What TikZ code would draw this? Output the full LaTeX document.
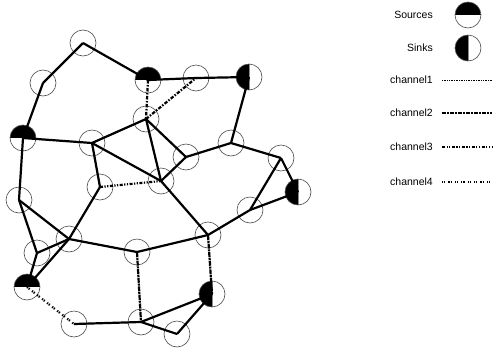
\documentclass[tikz,border=0pt]{standalone}
\usepackage{fontspec}
\setmainfont{Liberation Sans}
\begin{document}
\begin{tikzpicture}[x=1pt,y=-1pt,
  site/.style={circle,draw=black!70,line width=0.6pt,minimum size=26pt,inner sep=0pt,fill=white},
  source/.style={site,path picture={\fill[black] (path picture bounding box.north west) rectangle (path picture bounding box.east);}},
  sink/.style={site,path picture={\fill[black] (path picture bounding box.north west) rectangle (path picture bounding box.south);
     \draw[black!45,line width=0.6pt] (path picture bounding box.north) -- (path picture bounding box.south);}},
  link/.style={line width=2.2pt},
  ch1/.style={dash pattern=on 1pt off 0.7pt},
  ch1link/.style={dash pattern=on 5pt off 0.8pt on 2pt off 0.8pt},
  ch2/.style={dash pattern=on 3.5pt off 1.5pt on 1.5pt off 1.5pt},
  ch3/.style={dash pattern=on 3pt off 1.5pt on 1.2pt off 1.5pt on 1.2pt off 1.5pt},
  ch4/.style={dash pattern=on 1.2pt off 1pt on 1.2pt off 3pt},
  keyline/.style={line width=1.1pt},
  lbl/.style={anchor=east,inner sep=0pt,font=\fontsize{10.5}{12}\selectfont}]
\useasboundingbox (0,0) rectangle (493,354);

% sites of the network
\node[site]   (n1)  at (83,43)   {};
\node[site]   (n2)  at (43,83)   {};
\node[source] (s1)  at (23,138)  {};
\node[source] (s2)  at (148,80)  {};
\node[site]   (n3)  at (196,78)  {};
\node[sink]   (k1)  at (249,77)  {};
\node[site]   (n4)  at (146,119) {};
\node[site]   (n5)  at (92,143)  {};
\node[site]   (n6)  at (186,157) {};
\node[site]   (n7)  at (231,143) {};
\node[site]   (n8)  at (281,158) {};
\node[sink]   (k2)  at (298,192) {};
\node[site]   (n9)  at (100,187) {};
\node[site]   (n10) at (161,181) {};
\node[site]   (n11) at (19,200)  {};
\node[site]   (n12) at (250,210) {};
\node[site]   (n13) at (208,235) {};
\node[site]   (n14) at (69,239)  {};
\node[site]   (n15) at (37,253)  {};
\node[site]   (n16) at (137,252) {};
\node[source] (s3)  at (27,287)  {};
\node[sink]   (k3)  at (212,294) {};
\node[site]   (n17) at (74,324)  {};
\node[site]   (n18) at (141,322) {};
\node[site]   (n19) at (177,334) {};

% plain links
\draw[link] (n1.center) -- (n2.center);
\draw[link] (n1.center) -- (s2.center);
\draw[link] (n2.center) -- (s1.center);
\draw[link] (s1.center) -- (n5.center);
\draw[link] (s1.center) -- (n11.center);
\draw[link] (s2.center) -- (n3.center);
\draw[link] (n3.center) -- (k1.center);
\draw[link] (n4.center) -- (n5.center);
\draw[link] (n4.center) -- (n6.center);
\draw[link] (n4.center) -- (n10.center);
\draw[link] (n5.center) -- (n10.center);
\draw[link] (n5.center) -- (n9.center);
\draw[link] (n6.center) -- (n7.center);
\draw[link] (n6.center) -- (n10.center);
\draw[link] (n7.center) -- (k1.center);
\draw[link] (n7.center) -- (n8.center);
\draw[link] (n8.center) -- (k2.center);
\draw[link] (n8.center) -- (n12.center);
\draw[link] (n12.center) -- (k2.center);
\draw[link] (n12.center) -- (n13.center);
\draw[link] (n10.center) -- (n13.center);
\draw[link] (n13.center) -- (n16.center);
\draw[link] (n16.center) -- (n14.center);
\draw[link] (n11.center) -- (n14.center);
\draw[link] (n11.center) -- (n15.center);
\draw[link] (n15.center) -- (n14.center);
\draw[link] (n9.center) -- (n14.center);
\draw[link] (n14.center) -- (s3.center);
\draw[link] (n15.center) -- (s3.center);
\draw[link] (n17.center) -- (n18.center);
\draw[link] (n18.center) -- (k3.center);
\draw[link] (n18.center) -- (n19.center);
\draw[link] (n19.center) -- (k3.center);

% channel links
\draw[link,ch2] (s2.center) -- (n4.center);
\draw[link,ch2] (n4.center) -- (n3.center);
\draw[link,ch3] (n9.center) -- (n10.center);
\draw[link,ch4] (s3.center) -- (n17.center);
\draw[link,ch1link] (n16.center) -- (n18.center);
\draw[link,ch1link] (n13.center) -- (k3.center);

% legend
\node[lbl] (lsrc) at (433,15) {Sources};
\node[source] (ksrc) at (468,15) {};
\node[lbl] (lsnk) at (433,48) {Sinks};
\node[sink] (ksnk) at (468,48) {};
\node[lbl] (l1) at (433,80)  {channel1};
\node[lbl] (l2) at (433,113) {channel2};
\node[lbl] (l3) at (433,147) {channel3};
\node[lbl] (l4) at (433,182) {channel4};
\coordinate (a1) at (442,80);  \coordinate (b1) at (492,80);
\coordinate (a2) at (442,113); \coordinate (b2) at (492,113);
\coordinate (a3) at (442,147); \coordinate (b3) at (492,147);
\coordinate (a4) at (442,182); \coordinate (b4) at (492,182);
\draw[keyline,line width=0.8pt,ch1] (a1) -- (b1);
\draw[keyline,ch2] (a2) -- (b2);
\draw[keyline,ch3] (a3) -- (b3);
\draw[keyline,ch4] (a4) -- (b4);
\end{tikzpicture}
\end{document}
